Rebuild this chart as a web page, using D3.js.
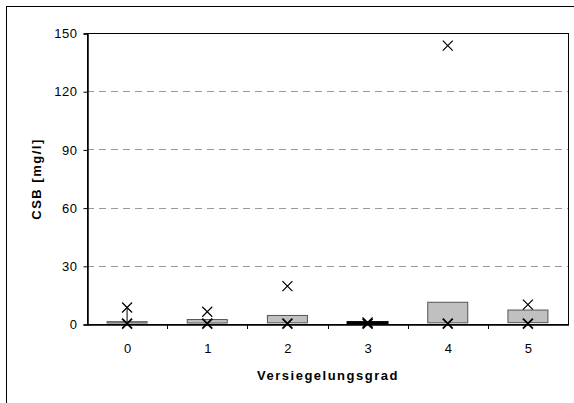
<!DOCTYPE html>
<html><head><meta charset="utf-8">
<script src="https://cdn.jsdelivr.net/npm/d3@7"></script>
<style>body{margin:0;background:#fff;}svg{display:block;font-family:"Liberation Sans",Arial,sans-serif;}</style>
</head><body>
<svg id="c" width="574" height="403"></svg>
<script>
const categories = ["0","1","2","3","4","5"];
const q1Values  = [0.5, 0.5, 0.6, 0.3, 0.6, 0.7];
const q3Values  = [1.2, 2.3, 4.4, 1.0, 11.2, 7.2];
const maxValues = [8.5, 6.3, 19.5, 0.8, 143.5, 10.0];
const minValues = [0.2, 0.2, 0.2, 0.2, 0.2, 0.2];
const showWhisker = [true, false, false, false, false, false];
const yTicks = [0, 30, 60, 90, 120, 150];

const svg = d3.select("#c");
const L = 87, R = 568, T = 33, B = 324;
const x = d3.scaleBand().domain(categories).range([L, R]);
const y = d3.scaleLinear().domain([0, 150]).range([B, T]);
const FONT = "Liberation Sans, Arial, sans-serif";

// outer frame
svg.append("rect").attr("x", 6.5).attr("y", 6.5).attr("width", 572).attr("height", 400)
  .attr("fill", "none").attr("stroke", "#000").attr("stroke-width", 1);

// gridlines
svg.append("g").selectAll("line").data(yTicks.filter(d => d > 0 && d < 150)).join("line")
  .attr("x1", L).attr("x2", R).attr("y1", d => Math.round(y(d)) + 0.5).attr("y2", d => Math.round(y(d)) + 0.5)
  .attr("stroke", "#999").attr("stroke-dasharray", "7,5").attr("stroke-width", 1);

// plot frame
svg.append("rect").attr("x", L + 0.5).attr("y", T + 0.5).attr("width", R - L).attr("height", B - T)
  .attr("fill", "none").attr("stroke", "#000").attr("stroke-width", 1);

// y axis
const yAxis = d3.axisLeft(y).tickValues(yTicks).tickSize(4).tickPadding(6);
const gy = svg.append("g").attr("transform", `translate(${L + 0.5},0.5)`).call(yAxis);
gy.select(".domain").attr("stroke-width", 1.5);
gy.selectAll("text").attr("font-size", 13).attr("fill", "#000").attr("font-family", FONT)
  .attr("letter-spacing", 0.5);

// x axis
const xAxis = d3.axisBottom(x).tickSize(0).tickPadding(19);
const gx = svg.append("g").attr("transform", `translate(0.5,${B + 0.5})`).call(xAxis);
gx.select(".domain").attr("stroke-width", 1.5);
gx.selectAll("text").attr("font-size", 13).attr("fill", "#000").attr("font-family", FONT);
// category boundary ticks
const bounds = categories.slice(1).map(c => x(c));
svg.append("g").selectAll("line").data(bounds).join("line")
  .attr("x1", d => Math.round(d) + 0.5).attr("x2", d => Math.round(d) + 0.5)
  .attr("y1", B).attr("y2", B + 5).attr("stroke", "#000");

const bw = 40;
const cx = i => x(categories[i]) + x.bandwidth() / 2;

// whiskers
svg.append("g").selectAll("line").data(categories.map((c, i) => i).filter(i => showWhisker[i])).join("line")
  .attr("x1", i => cx(i)).attr("x2", i => cx(i))
  .attr("y1", i => y(maxValues[i])).attr("y2", i => y(minValues[i]))
  .attr("stroke", "#000").attr("stroke-width", 1);

// boxes
svg.append("g").selectAll("rect").data(categories.map((c, i) => i)).join("rect")
  .attr("x", i => cx(i) - bw / 2).attr("width", bw)
  .attr("y", i => y(q3Values[i])).attr("height", i => Math.max(0.5, y(q1Values[i]) - y(q3Values[i])))
  .attr("fill", "#c0c0c0").attr("stroke", (c, i) => i === 3 ? "#000" : "#555")
  .attr("stroke-width", (c, i) => i === 3 ? 2 : 1);

// markers
function cross(g, px, py, s, w) {
  g.append("path").attr("d", `M${px - s},${py - s}L${px + s},${py + s}M${px - s},${py + s}L${px + s},${py - s}`)
    .attr("stroke", "#000").attr("stroke-width", w).attr("fill", "none");
}
const gm = svg.append("g");
categories.forEach((c, i) => {
  cross(gm, cx(i), y(maxValues[i]), 5, 1.2);
  cross(gm, cx(i), y(minValues[i]), 5, 1.8);
});

// axis titles
svg.append("text").attr("x", 328).attr("y", 380).attr("text-anchor", "middle")
  .attr("font-size", 13).attr("font-weight", "bold").attr("letter-spacing", 1.5).text("Versiegelungsgrad");
svg.append("text").attr("transform", "translate(41,179) rotate(-90)").attr("text-anchor", "middle")
  .attr("font-size", 13).attr("font-weight", "bold").attr("letter-spacing", 1.5).text("CSB [mg/l]");
</script>
</body></html>
